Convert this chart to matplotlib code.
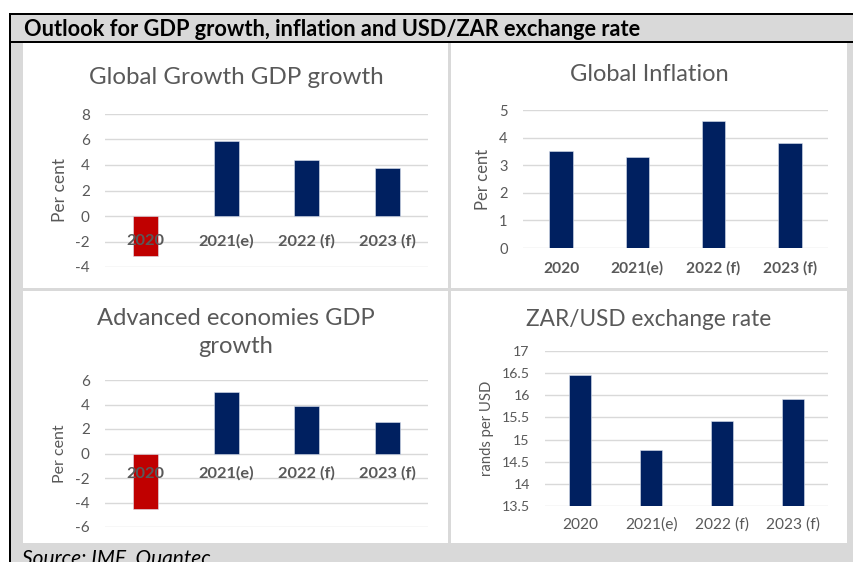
import numpy as np
import matplotlib
matplotlib.use("Agg")
import matplotlib.pyplot as plt
from matplotlib.patches import Rectangle

plt.rcParams['axes.unicode_minus'] = False
plt.rcParams['font.family'] = ['Lato', 'DejaVu Sans']

# Data
categories = ['2020', '2021(e)', '2022 (f)', '2023 (f)']
global_gdp = [-3.1, 5.9, 4.4, 3.8]
global_inflation = [3.5, 3.3, 4.6, 3.8]
advanced_gdp = [-4.5, 5.0, 3.9, 2.6]
zar_usd = [16.45, 14.77, 15.41, 15.92]

NAVY = '#002060'
RED = '#C00000'
PANEL_GREY = '#d9d9d9'
TEXT_GREY = '#595959'
GRID = '#d9d9d9'

W, H = 854, 562
fig = plt.figure(figsize=(W / 100, H / 100), dpi=100)
fig.patch.set_facecolor('white')


def rect(x0, y0, x1, y1):
    # pixel box (top-left origin) -> figure fraction [left, bottom, width, height]
    return [x0 / W, 1 - y1 / H, (x1 - x0) / W, (y1 - y0) / H]


def fill(x0, y0, x1, y1, color):
    l, b, w, h = rect(x0, y0, x1, y1)
    fig.add_artist(Rectangle((l, b), w, h, transform=fig.transFigure,
                             facecolor=color, edgecolor='none', zorder=0))


def ftext(x, y, s, **kw):
    return fig.text(x / W, 1 - y / H, s, **kw)


# frame, header strip and white chart panels
fill(11, 15, W, H, PANEL_GREY)
fill(9, 13, W, 15, 'black')
fill(9, 13, 11, H, 'black')
fill(11, 41, W, 42.5, 'black')
for box in [(23, 43, 448, 288), (451, 43, 847, 288),
            (23, 291, 448, 543), (451, 291, 847, 543)]:
    fill(*box, 'white')

ftext(24, 36, 'Outlook for GDP growth, inflation and USD/ZAR exchange rate',
      fontsize=15.7, fontweight='bold', color='black', va='baseline', ha='left')
ftext(22, 565, 'Source: IMF, Quantec', fontsize=15, style='italic',
      color='black', va='baseline', ha='left')


def bar_panel(area, values, ylim, yticks, title, title_xy, ylabel, ylabel_x,
              label_offset, title_size, ylabel_size, tick_size, cat_size,
              bold_labels=True):
    ax = fig.add_axes(rect(*area))
    ax.set_facecolor('none')
    x = np.arange(len(categories))
    colors = [RED if v < 0 else NAVY for v in values]
    ax.bar(x, values, width=0.31, color=colors, edgecolor='#dce3ef',
           linewidth=0.4, zorder=2)
    ax.set_xlim(-0.5, len(categories) - 0.5)
    ax.set_ylim(*ylim)
    ax.set_yticks(yticks)
    ax.set_yticklabels([f'{t:g}' for t in yticks])
    ax.grid(axis='y', color=GRID, linewidth=1.0)
    ax.set_axisbelow(True)
    ax.set_xticks([])
    for s in ax.spines.values():
        s.set_visible(False)
    ax.tick_params(axis='y', length=0, pad=11, labelsize=tick_size,
                   labelcolor=TEXT_GREY)

    base = max(ylim[0], 0)
    for i, c in enumerate(categories):
        ax.annotate(c, (i, base), xytext=(0, -label_offset),
                    textcoords='offset points', ha='center', va='center',
                    fontsize=cat_size, color=TEXT_GREY,
                    fontweight='bold' if bold_labels else 'normal', zorder=5)

    cy = (area[1] + area[3]) / 2
    ftext(ylabel_x, cy, ylabel, rotation=90, ha='center', va='center',
          fontsize=ylabel_size, color=TEXT_GREY)
    ftext(title_xy[0], title_xy[1], title, ha='center', va='baseline',
          fontsize=title_size, color=TEXT_GREY, linespacing=1.4)
    return ax


bar_panel((105, 114, 428, 267), global_gdp, (-4, 8), range(-4, 9, 2),
          'Global Growth GDP growth', (236, 84), 'Per cent', 60, 18,
          title_size=17.4, ylabel_size=12.5, tick_size=11, cat_size=11.8)
bar_panel((523, 110, 828, 248), global_inflation, (0, 5), range(0, 6),
          'Global Inflation', (649, 81), 'Per cent', 483, 15,
          title_size=17, ylabel_size=12, tick_size=10.5, cat_size=11.2)
bar_panel((105, 380, 428, 527), advanced_gdp, (-6, 6), range(-6, 7, 2),
          'Advanced economies GDP\ngrowth', (236, 353), 'Per cent', 60, 14.4,
          title_size=17.1, ylabel_size=11.5, tick_size=11, cat_size=11.8)
bar_panel((545, 351, 828, 506), zar_usd, (13.5, 17), np.arange(13.5, 17.01, 0.5),
          'ZAR/USD exchange rate', (649, 326), 'rands per USD', 487, 13.7,
          title_size=16.3, ylabel_size=10.7, tick_size=10.2, cat_size=11.2,
          bold_labels=False)

fig.savefig('out.png', dpi=100)
